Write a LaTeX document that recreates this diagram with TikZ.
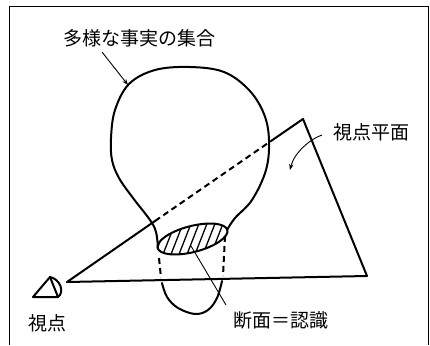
\documentclass[tikz,border=0pt]{standalone}
\usepackage{fontspec}
\setmainfont{Noto Sans CJK JP}
\usetikzlibrary{arrows.meta}
\begin{document}
\begin{tikzpicture}[x=1pt,y=-1pt,
  thickline/.style={line width=2pt, line join=round, line cap=round},
  thinline/.style={line width=0.9pt},
  hidden/.style={thickline, line cap=butt, dash pattern=on 6pt off 4pt},
  hatchline/.style={line width=1.3pt},
  lbl/.style={font=\fontsize{19}{19}\selectfont, inner sep=0pt, anchor=center},
  tip/.style={-{Stealth[length=6pt,width=4.5pt]}}]
\useasboundingbox (0,0) rectangle (430,345);
% outer frame
\draw[line width=1pt] (9,345) -- (9,7) -- (428,7) -- (428,345);

% labels
\node[lbl] (setlabel) at (139.5,38) {多様な事実の集合};
\node[lbl] (planelabel) at (371.5,132) {視点平面};
\node[lbl] (cutlabel) at (280.5,320) {断面＝認識};
\node[lbl] (eyelabel) at (47.5,323) {視点};

% key points
\coordinate (V) at (67,282);
\coordinate (T) at (303,119);
\coordinate (R) at (367,276);
\coordinate (P1) at (155,221);
\coordinate (P2) at (271,141);

% the set of facts: upper (visible) body
\draw[thickline] plot[smooth, tension=0.6] coordinates {(158,248) (156,232) (150,220) (133,198) (119,178) (112,160) (111,138) (115,110) (129,84) (155,70) (190,67) (224,72) (249,90) (264,114) (269,140) (266,170) (252,200) (235,218) (227,230)};
% hidden part behind the plane
\draw[hidden] (159,258) -- (161,278);
\draw[hidden] (225,236) -- (223,276);
% lower loop below the plane
\draw[thickline] plot[smooth, tension=0.6] coordinates {(162,283) (167,297) (178,308) (195,314) (208,310) (217,298) (222,281)};

% the cut section
\begin{scope}
  \clip[rotate around={14.5:(192.5,239)}] (192.5,239) ellipse (36 and 13);
  \foreach \i in {120,128,...,250}
    \draw[hatchline] (\i,262) -- (\i+18,216);
\end{scope}
\draw[thickline, rotate around={14.5:(192.5,239)}] (192.5,239) ellipse (36 and 13);

% viewpoint plane
\draw[thickline] (V) -- (P1);
\draw[hidden] (P1) -- (P2);
\draw[thickline] (P2) -- (T) -- (R) -- (V);

% the eye
\draw[thickline] (50,277) -- (33,297) -- (58,297) -- cycle;
\draw[thickline] (50,277) .. controls (60,279) and (65,292) .. (58,297);

% pointers
\coordinate (sa) at (102,52);
\coordinate (sb) at (128,85);
\draw[thinline, tip] (sa) -- (sb);
\coordinate (pa) at (322,135);
\coordinate (pb) at (290,170);
\draw[thinline, tip] (pa) .. controls (310,139) and (294,153) .. (pb);
\coordinate (ca) at (191,246);
\coordinate (cb) at (226,305);
\draw[thinline] (ca) -- (cb);
\end{tikzpicture}
\end{document}
